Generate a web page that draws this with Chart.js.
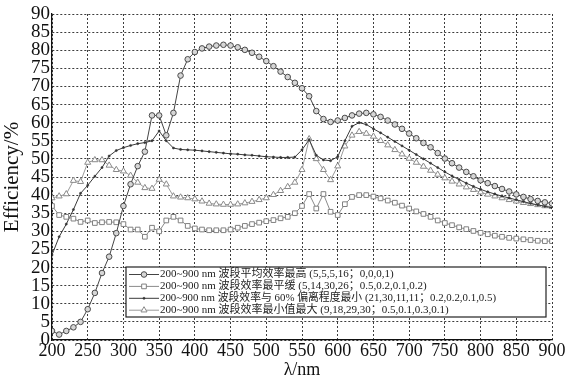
<!DOCTYPE html>
<html>
<head>
<meta charset="utf-8">
<script src="https://cdn.jsdelivr.net/npm/chart.js@4"></script>
<style>
html,body{margin:0;padding:0;background:#fff;}
canvas{display:block;}
</style>
</head>
<body>
<canvas id="effChart" width="570" height="381"></canvas>
<script>
const wavelengths = [
200,210,220,230,240,250,260,270,280,290,
300,310,320,330,340,350,360,370,380,390,
400,410,420,430,440,450,460,470,480,490,
500,510,520,530,540,550,560,570,580,590,
600,610,620,630,640,650,660,670,680,690,
700,710,720,730,740,750,760,770,780,790,
800,810,820,830,840,850,860,870,880,890,
900
];

const seriesNames = [
'200~900 nm 波段平均效率最高 (5,5,5,16；0,0,0,1)',
'200~900 nm 波段效率最平缓 (5,14,30,26；0.5,0.2,0.1,0.2)',
'200~900 nm 波段效率与 60% 偏离程度最小 (21,30,11,11；0.2,0.2,0.1,0.5)',
'200~900 nm 波段效率最小值最大 (9,18,29,30；0.5,0.1,0.3,0.1)'
];

const avgHighest = [
2.5,1.5,2.5,3.5,5,8.5,13,18.5,23,29.5,
37,43,48,52,62,62,56.5,62.7,73,77.5,
79.5,80.5,81,81.3,81.5,81.3,80.8,80.1,79.3,78.2,
77,75.6,74.1,72.6,71,69.5,67.3,63.2,61,60.2,
60.6,61.3,62,62.5,62.7,62.3,61.6,60.6,59.5,58.3,
57,55.7,54.4,53.2,51.6,50.1,48.8,47.6,46.4,45.2,
44.1,43.3,42.5,41.7,41,40.2,39.5,38.9,38.4,38,
37.7
];

const flattest = [
37,34.5,34,33.5,32.6,33,32.3,32.5,32.6,32.5,
32,30.5,30.5,28.5,31,30,33,34,33,31.5,
30.8,30.5,30.3,30.3,30.3,30.5,31,31.5,32,32.4,
32.8,33.1,33.6,34,35,37,40.3,36.3,40.3,35.4,
34.5,37.5,39.5,40,40,39.6,39.1,38.5,37.9,37.1,
36.3,35.5,34.8,34,33,32.3,31.7,31.1,30.6,30.1,
29.6,29.2,28.8,28.5,28.2,28,27.8,27.6,27.4,27.3,
27.3
];

const closestTo60 = [
23.5,28.5,32,36,40.5,42.7,45.2,47.6,50.8,52.3,
53.1,53.7,54.2,54.5,55,57.7,55,53,52.6,52.5,
52.4,52.2,52,51.8,51.6,51.4,51.3,51.1,51,50.8,
50.6,50.5,50.4,50.4,50.5,52.5,55.3,51,49.7,49.5,
50.6,55,59,60,59.5,58.3,57.2,56,54.8,53.6,
52.4,51.2,50,48.8,47.6,46.4,45.3,44.3,43.3,42.4,
41.6,40.9,40.3,39.7,39.2,38.7,38.2,37.7,37.3,36.9,
36.5
];

const maxOfMin = [
39.2,39.7,40.3,44,43.7,49,49.7,49.7,48.2,47,
46.6,45.4,43.5,42,41.8,44.3,43,39.7,39.4,39.2,
38.9,38.3,37.7,37.5,37.4,37.4,37.5,37.8,38.2,38.7,
39.2,40.1,41.2,42.3,43.5,47,55.5,50,47,44.2,
48,53.5,56.5,57.5,57,56.2,55,53.8,52.5,51.3,
50.1,49,47.9,46.8,45.7,44.7,43.8,43,42.2,41.5,
40.8,40.2,39.7,39.2,38.7,38.3,37.9,37.6,37.3,37,
36.8
];

const serif = "'Liberation Serif', 'Noto Sans CJK SC', serif";

function pts(vals) {
  return wavelengths.map((w, i) => ({x: w, y: vals[i]}));
}

const datasets = [
  {label: seriesNames[0], data: pts(avgHighest), borderColor: '#444', borderWidth: 1,
   pointStyle: 'circle', pointRadius: 2.8, pointBorderColor: '#4a4a4a', pointBackgroundColor: '#d6d6d6', pointBorderWidth: 1},
  {label: seriesNames[1], data: pts(flattest), borderColor: '#8a8a8a', borderWidth: 1,
   pointStyle: 'rect', pointRadius: 3.3, pointBorderColor: '#808080', pointBackgroundColor: '#fff', pointBorderWidth: 1},
  {label: seriesNames[2], data: pts(closestTo60), borderColor: '#3a3a3a', borderWidth: 1,
   pointStyle: 'circle', pointRadius: 1.1, pointBorderColor: '#333', pointBackgroundColor: '#333', pointBorderWidth: 0.5},
  {label: seriesNames[3], data: pts(maxOfMin), borderColor: '#9a9a9a', borderWidth: 1,
   pointStyle: 'triangle', pointRadius: 3.5, pointBorderColor: '#8a8a8a', pointBackgroundColor: '#fff', pointBorderWidth: 1}
];

// text widths of the legend rows in the figure
const legendWidths = [238, 268, 336, 290];

// legend box drawn inside the plot, like the figure
const boxLegend = {
  id: 'boxLegend',
  afterDraw(chart) {
    const ctx = chart.ctx;
    const a = chart.chartArea;
    ctx.save();
    const left = a.left + 74, right = a.right - 6, top = 267, bottom = 317;
    ctx.fillStyle = '#fff';
    ctx.fillRect(left, top, right - left, bottom - top);
    ctx.strokeStyle = '#222';
    ctx.lineWidth = 1.2;
    ctx.strokeRect(left, top, right - left, bottom - top);
    chart.data.datasets.forEach((ds, i) => {
      const y = 274.5 + i * 11.9;
      ctx.strokeStyle = ds.borderColor;
      ctx.lineWidth = 1;
      ctx.beginPath();
      ctx.moveTo(left + 3, y);
      ctx.lineTo(left + 33, y);
      ctx.stroke();
      ctx.strokeStyle = ds.pointBorderColor;
      ctx.fillStyle = ds.pointBackgroundColor;
      ctx.lineWidth = ds.pointBorderWidth;
      Chart.helpers.drawPoint(ctx, {pointStyle: ds.pointStyle, radius: ds.pointRadius, rotation: 0, borderWidth: ds.pointBorderWidth}, left + 18, y);
      ctx.fillStyle = '#222';
      ctx.font = '11px ' + serif;
      ctx.textBaseline = 'middle';
      ctx.textAlign = 'left';
      ctx.fillText(ds.label, left + 34, y, legendWidths[i]);
    });
    ctx.restore();
  }
};

new Chart(document.getElementById('effChart'), {
  type: 'line',
  data: {datasets: datasets},
  plugins: [boxLegend],
  options: {
    responsive: false,
    devicePixelRatio: 1,
    animation: false,
    layout: {padding: {top: 14, right: 18, left: 0, bottom: 0}},
    plugins: {legend: {display: false}, tooltip: {enabled: false}},
    elements: {line: {tension: 0}},
    scales: {
      x: {
        type: 'linear', min: 200, max: 900,
        afterFit(scale) { scale.height = 41; },
        ticks: {stepSize: 50, autoSkip: false, color: '#111', padding: 0, maxRotation: 0, font: {family: serif, size: 18}},
        grid: {display: true, color: '#3c3c3c', lineWidth: 1, drawTicks: false},
        border: {display: true, color: '#111', width: 1.3, dash: [2, 2]},
        title: {display: true, text: 'λ/nm', color: '#111', padding: {top: 0, bottom: 0}, font: {family: serif, size: 18}}
      },
      y: {
        min: 0, max: 90,
        afterFit(scale) { scale.width = 52; },
        ticks: {stepSize: 5, autoSkip: false, color: '#111', padding: 2, font: {family: serif, size: 19}},
        grid: {display: true, color: '#3c3c3c', lineWidth: 1, drawTicks: false},
        border: {display: true, color: '#111', width: 1.3, dash: [2, 2]},
        title: {display: true, text: 'Efficiency/%', color: '#111', padding: {top: 0, bottom: 0}, font: {family: serif, size: 21}}
      }
    }
  }
});
</script>
</body>
</html>
